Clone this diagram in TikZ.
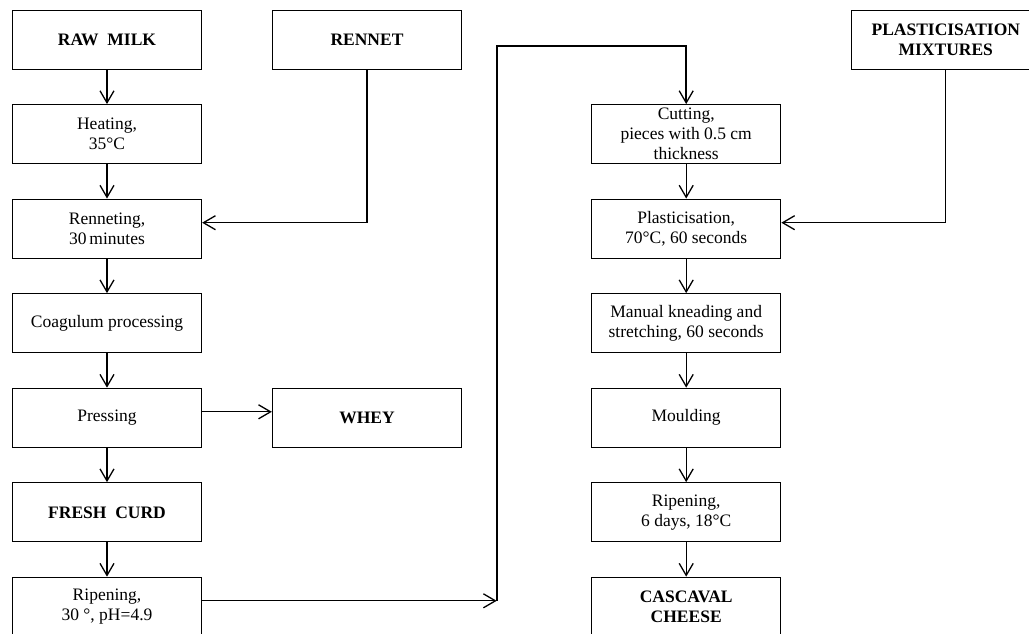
\documentclass[tikz,border=0pt]{standalone}
\usepackage{fontspec}
\setmainfont{Liberation Serif}
\usetikzlibrary{arrows.meta}
\begin{document}
\begin{tikzpicture}[x=1pt,y=-1pt,
  box/.style={draw,line width=1.3pt,minimum width=189pt,minimum height=59pt,inner sep=0pt,align=center,font=\fontsize{17.5}{20}\selectfont},
  bbox/.style={box,font=\fontsize{17.5}{19.5}\selectfont\bfseries},
  conn/.style={line width=1.3pt,-{Straight Barb[length=12pt,width=14pt,line width=1.3pt]}},
  loopline/.style={conn,line width=1.9pt}]
\useasboundingbox (0,0) rectangle (1029,633);
\clip (0,0) rectangle (1029,633);
% left column
\node[bbox] (raw) at (107,39.7) {RAW\ \ MILK};
\node[box] (heat) at (107,134.2) {Heating,\\35°C};
\node[box] (renn) at (107,228.7) {Renneting,\\30\,minutes};
\node[box] (coag) at (107,323.3) {Coagulum processing};
\node[box] (press) at (107,417.8) {Pressing};
\node[bbox] (fresh) at (107,512.3) {FRESH\ \ CURD};
\node[box] (ripe) at (107,606.8) {Ripening,\\30 °, pH=4.9};
% middle
\node[bbox] (rennet) at (367,39.7) {RENNET};
\node[bbox] (whey) at (367,417.8) {WHEY};
% right column
\node[box] (cut) at (686.2,134.2) {Cutting,\\pieces with 0.5 cm\\thickness};
\node[box] (plas) at (686.2,228.7) {Plasticisation,\\70°C, 60 seconds};
\node[box] (knead) at (686.2,323.3) {Manual kneading and\\stretching, 60 seconds};
\node[box] (mould) at (686.2,417.8) {Moulding};
\node[box] (ripe2) at (686.2,512.3) {Ripening,\\6 days, 18°C};
\node[bbox] (casc) at (686.2,606.8) {CASCAVAL\\CHEESE};
\node[bbox] (mix) at (945.8,39.7) {PLASTICISATION\\MIXTURES};
% vertical flow
\draw[conn] (raw.south) -- (heat.north);
\draw[conn] (heat.south) -- (renn.north);
\draw[conn] (renn.south) -- (coag.north);
\draw[conn] (coag.south) -- (press.north);
\draw[conn] (press.south) -- (fresh.north);
\draw[conn] (fresh.south) -- (ripe.north);
\draw[conn] (cut.south) -- (plas.north);
\draw[conn] (plas.south) -- (knead.north);
\draw[conn] (knead.south) -- (mould.north);
\draw[conn] (mould.south) -- (ripe2.north);
\draw[conn] (ripe2.south) -- (casc.north);
% side inputs
\draw[conn] (rennet.south) |- ([yshift=6pt]renn.east);
\draw[conn] ([yshift=6pt]press.east) -- ([yshift=6pt]whey.west);
\draw[conn] (mix.south) |- ([yshift=6pt]plas.east);
% loop
\coordinate (lb) at (496.7,600.8);
\coordinate (lt) at (496.7,45.7);
\draw[conn] ([yshift=6pt]ripe.east) -- (lb);
\draw[loopline] (lb) -- (lt) -| (cut.north);
\end{tikzpicture}
\end{document}
